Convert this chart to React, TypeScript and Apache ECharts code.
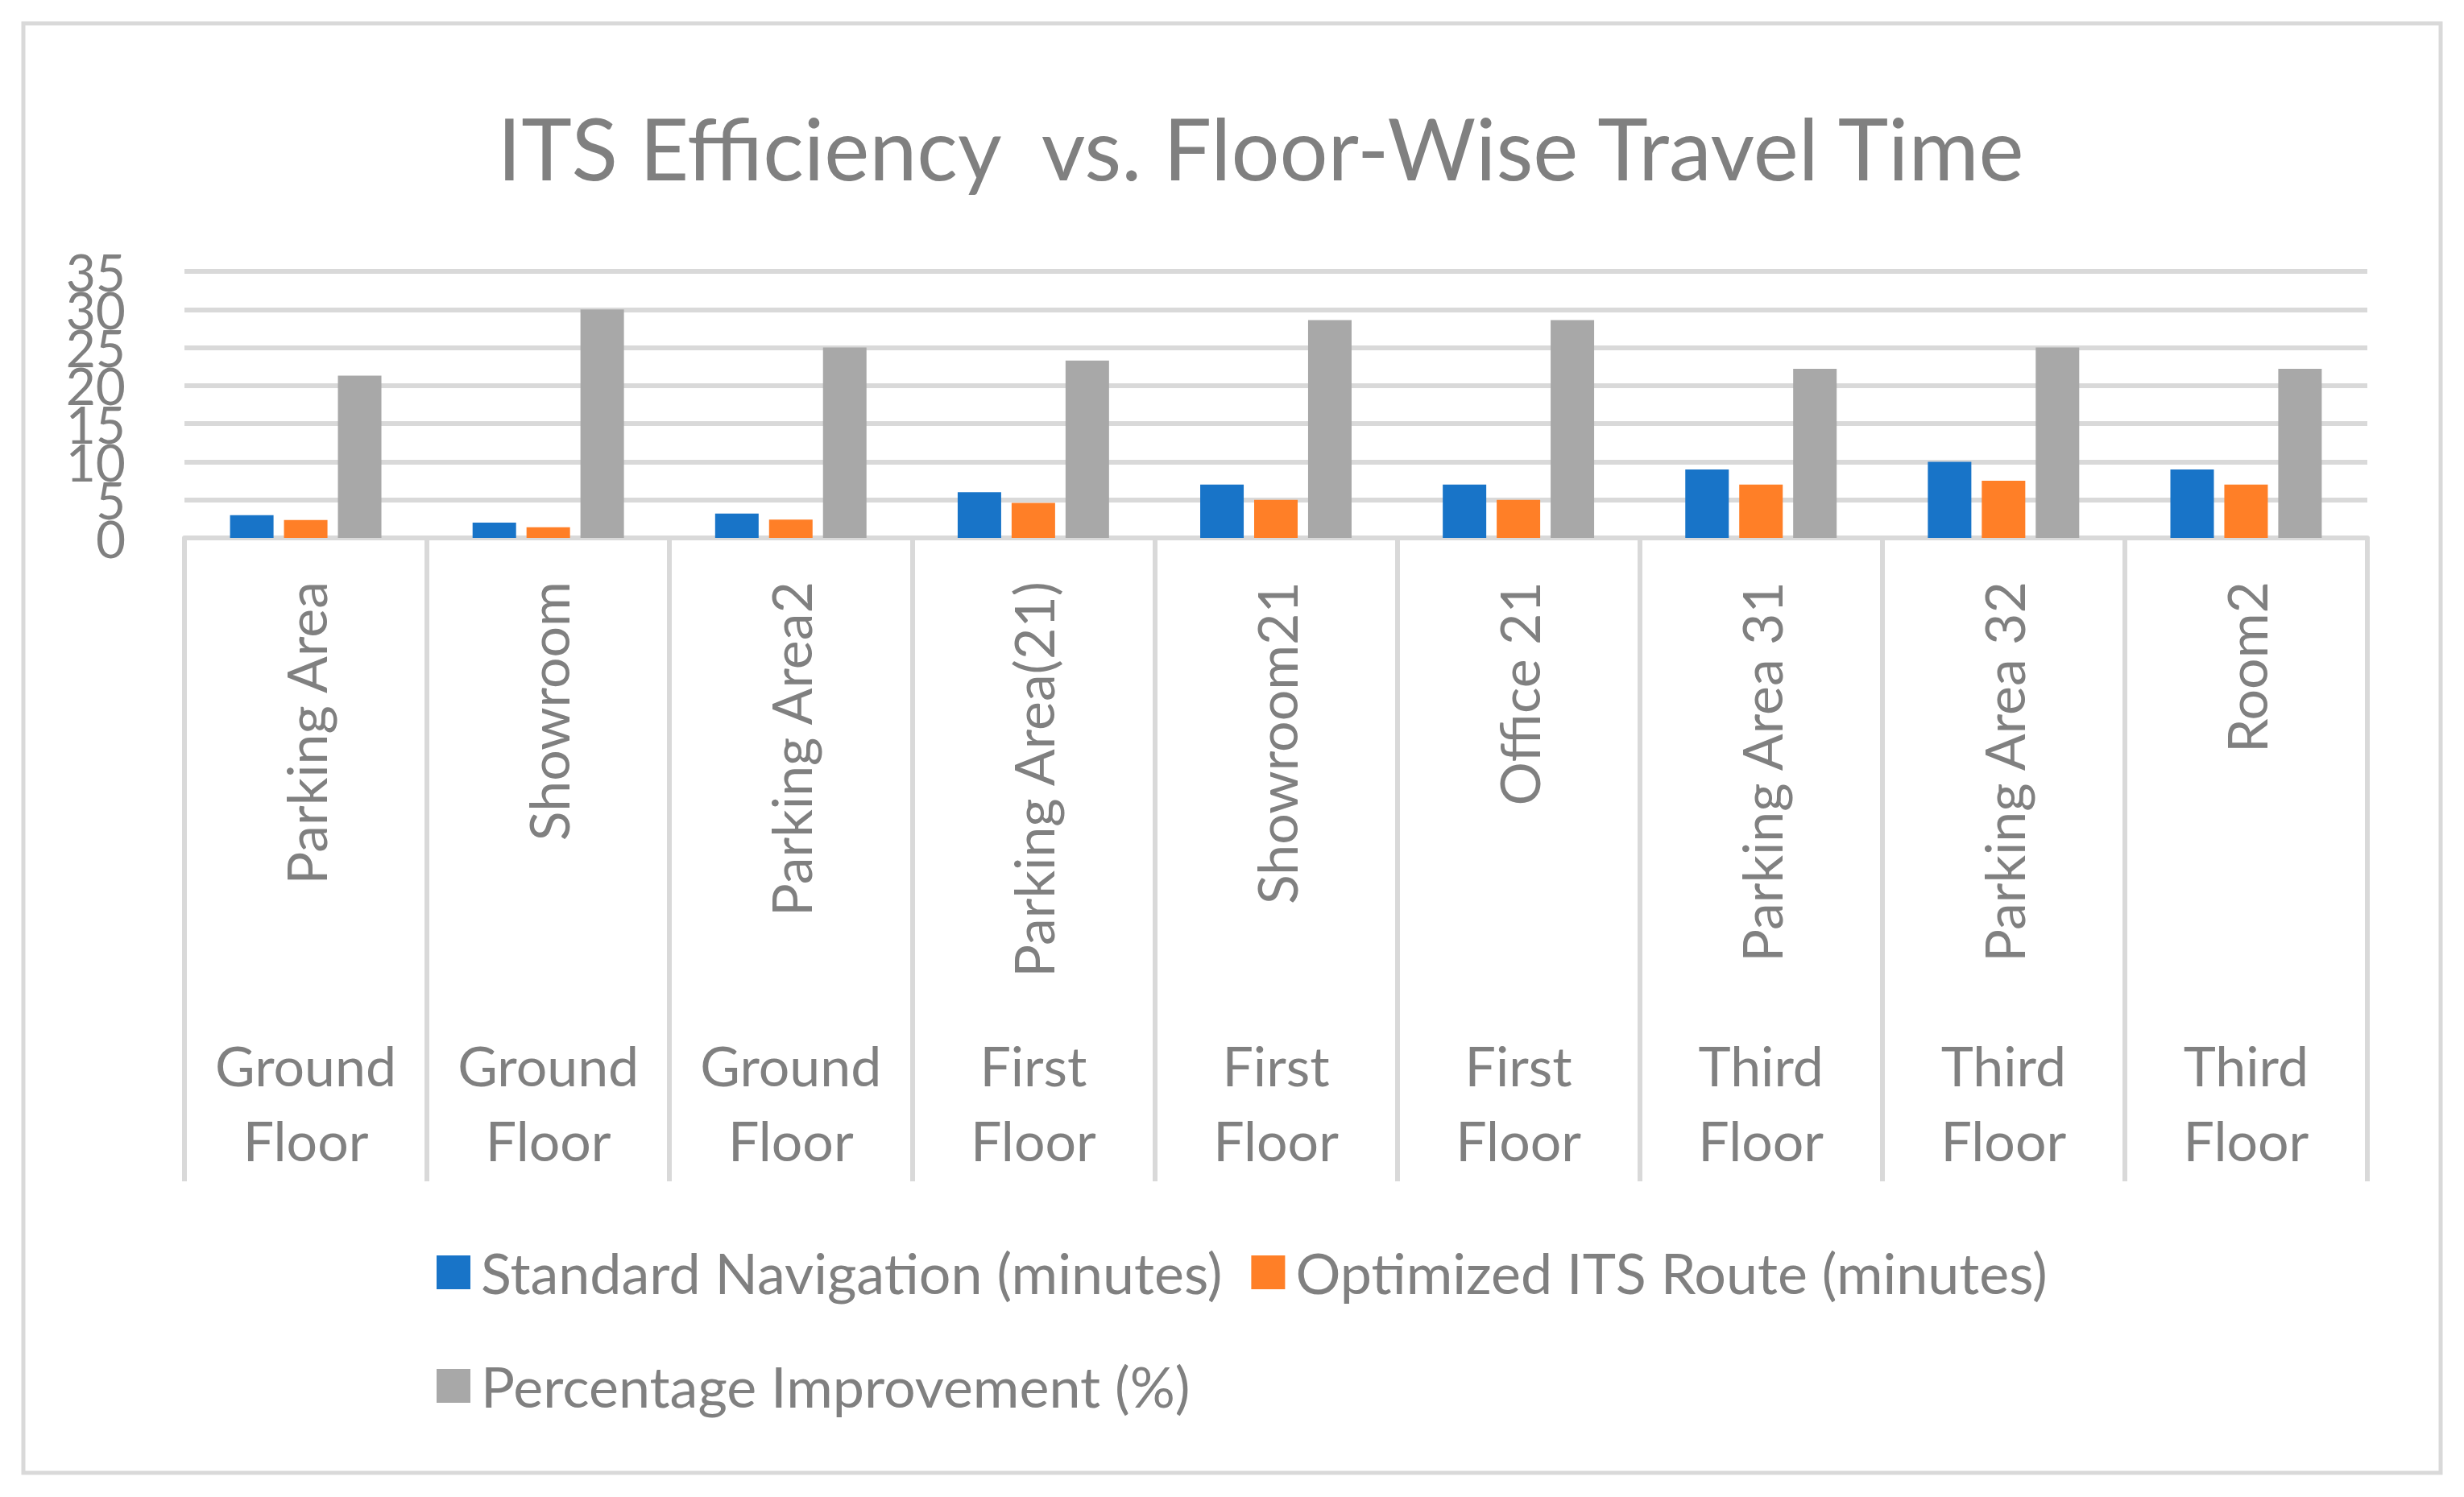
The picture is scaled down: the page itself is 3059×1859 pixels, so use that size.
import React, { useEffect, useRef } from "react";
import * as echarts from "echarts";

const chartTitle = "ITS Efficiency  vs. Floor-Wise Travel Time";
const locations = [
  "Parking Area",
  "Showroom",
  "Parking Area2",
  "Parking Area(21)",
  "Showroom21",
  "Office 21",
  "Parking Area 31",
  "Parking Area 32",
  "Room2",
];
const floors = [
  "Ground Floor",
  "Ground Floor",
  "Ground Floor",
  "First Floor",
  "First Floor",
  "First Floor",
  "Third Floor",
  "Third Floor",
  "Third Floor",
];
const seriesNames = [
  "Standard Navigation (minutes)",
  "Optimized ITS Route (minutes)",
  "Percentage Improvement (%)",
];
const standardNav = [3.0, 2.0, 3.2, 6.0, 7.0, 7.0, 9.0, 10.0, 9.0];
const optimizedIts = [2.36, 1.4, 2.4, 4.6, 5.0, 5.0, 7.0, 7.5, 7.0];
const improvementPct = [21.3, 30.0, 25.0, 23.3, 28.6, 28.6, 22.2, 25.0, 22.2];
const yTickLabels = ["0", "5", "10", "15", "20", "25", "30", "35"];
const yMin = 0;
const yMax = 35;
const yStep = 5;

const FONT = "Lato";
const TEXT = "#808080";
const LINE = "#d9d9d9";
const COLORS = ["#1874C8", "#FF7F27", "#A8A8A8"];

export default function App() {
  const ref = useRef<HTMLDivElement>(null);
  useEffect(() => {
    if (!ref.current) return;
    const chart = echarts.init(ref.current, undefined, { renderer: "svg" });
    const values = [standardNav, optimizedIts, improvementPct];
    chart.setOption({
      animation: false,
      backgroundColor: "#ffffff",
      textStyle: { fontFamily: FONT },
      graphic: [
        {
          type: "rect",
          silent: true,
          z: -10,
          shape: { x: 29, y: 29, width: 3001, height: 1800 },
          style: { fill: "none", stroke: LINE, lineWidth: 5 },
        },
        {
          type: "text",
          x: 1565,
          y: 183,
          style: {
            text: chartTitle,
            fontFamily: FONT,
            fontSize: 106,
            fill: TEXT,
            align: "center",
            verticalAlign: "middle",
          },
        },
      ],
      legend: [
        {
          data: [seriesNames[0], seriesNames[1]],
          left: 542,
          top: 1545,
          padding: 0,
          itemWidth: 42,
          itemHeight: 42,
          itemGap: 36,
          icon: "rect",
          textStyle: { fontFamily: FONT, fontSize: 70, color: TEXT, padding: [0, 0, 0, 8] },
        },
        {
          data: [seriesNames[2]],
          left: 542,
          top: 1686,
          padding: 0,
          itemWidth: 42,
          itemHeight: 42,
          icon: "rect",
          textStyle: { fontFamily: FONT, fontSize: 70, color: TEXT, padding: [0, 0, 0, 8] },
        },
      ],
      grid: { left: 229, right: 120, top: 337, bottom: 1191, containLabel: false },
      xAxis: [
        {
          type: "category",
          data: locations,
          position: "bottom",
          axisLine: { show: true, lineStyle: { color: LINE, width: 6 } },
          axisTick: { show: true, interval: 0, length: 799, lineStyle: { color: LINE, width: 6 } },
          axisLabel: {
            interval: 0,
            rotate: 90,
            margin: 54,
            fontFamily: FONT,
            fontSize: 68,
            color: TEXT,
          },
          splitLine: { show: false },
        },
        {
          type: "category",
          data: floors,
          position: "bottom",
          axisLine: { show: false },
          axisTick: { show: false },
          splitLine: { show: false },
          axisLabel: {
            interval: 0,
            margin: 608,
            fontFamily: FONT,
            fontSize: 68,
            lineHeight: 93,
            color: TEXT,
            formatter: (v: string) => v.replace(" ", "\n"),
          },
        },
      ],
      yAxis: [
        {
          type: "value",
          position: "left",
          min: yMin,
          max: yMax,
          interval: yStep,
          axisLine: { show: false },
          axisTick: { show: false },
          splitLine: { show: true, lineStyle: { color: LINE, width: 6 } },
          axisLabel: { show: false },
        },
        {
          type: "category",
          position: "left",
          data: yTickLabels,
          boundaryGap: false,
          axisLine: { show: false },
          axisTick: { show: false },
          splitLine: { show: false },
          axisLabel: {
            interval: 0,
            margin: 73,
            fontFamily: FONT,
            fontSize: 64,
            color: TEXT,
          },
        },
      ],
      series: seriesNames.map((name, i) => ({
        name,
        type: "bar",
        xAxisIndex: 0,
        yAxisIndex: 0,
        data: values[i],
        barWidth: 54,
        barGap: "24%",
        itemStyle: { color: COLORS[i] },
      })),
    });
    return () => chart.dispose();
  }, []);
  return (
    <div
      ref={ref}
      style={{ position: "absolute", left: 0, top: 0, width: 3059, height: 1859 }}
    />
  );
}
